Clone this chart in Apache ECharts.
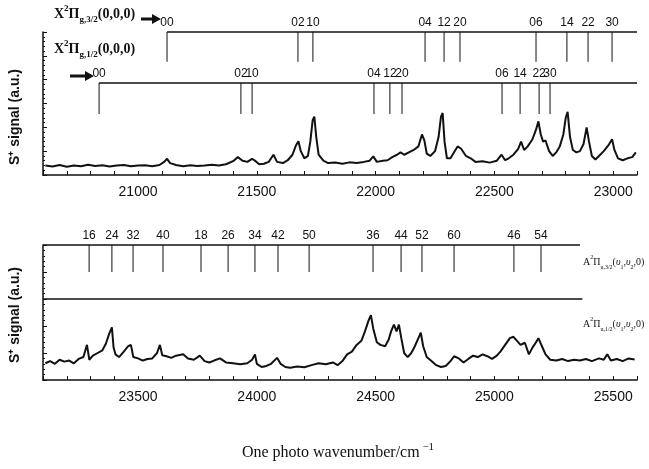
<!DOCTYPE html>
<html>
<head>
<meta charset="utf-8">
<script src="https://cdn.jsdelivr.net/npm/echarts@6/dist/echarts.min.js"></script>
<style>
  html, body { margin: 0; padding: 0; background: #fff; }
  #chart { width: 649px; height: 469px; }
</style>
</head>
<body>
<div id="chart"></div>
<script>
// axis ranges (cm-1)
var topRange = [20600, 23100];
var botRange = [23100, 25600];
var tickLabels = [21000, 21500, 22000, 22500, 23000, 23500, 24000, 24500, 25000, 25500];

// X2Pi_g,3/2 progression
var x32Pos = [21122, 21673, 21736, 22208, 22288, 22355, 22675, 22805, 22894, 22995];
var x32Lab = ['00', '02', '10', '04', '12', '20', '06', '14', '22', '30'];
// X2Pi_g,1/2 progression
var x12Pos = [20836, 21433, 21480, 21993, 22060, 22111, 22532, 22608, 22688, 22734];
var x12Lab = ['00', '02', '10', '04', '12', '20', '06', '14', '22', '30'];
// A2Pi_u,3/2 (v1,v2,0)
var a32Pos = [23294, 23390, 23479, 23605, 23765, 23879, 23992, 24089, 24220, 24489, 24607, 24695, 24830, 25082, 25196];
var a32Lab = ['16', '24', '32', '40', '18', '26', '34', '42', '50', '36', '44', '52', '60', '46', '54'];

// upper spectrum [wavenumber, signal]
var topSpec = [
  [20610,0.40],[20640,0.36],[20670,0.42],[20700,0.35],[20730,0.40],[20760,0.37],[20790,0.43],[20820,0.38],
  [20850,0.41],[20880,0.36],[20910,0.40],[20940,0.42],[20970,0.37],[21000,0.40],[21030,0.41],[21060,0.37],
  [21090,0.42],[21110,0.55],[21122,0.68],[21135,0.50],[21160,0.42],[21190,0.37],[21220,0.41],[21250,0.38],
  [21280,0.40],[21310,0.43],[21340,0.40],[21370,0.45],[21400,0.58],[21420,0.75],[21440,0.60],[21460,0.55],
  [21480,0.68],[21495,0.58],[21510,0.45],[21530,0.47],[21550,0.55],[21570,0.85],[21585,0.55],[21610,0.50],
  [21630,0.62],[21650,0.85],[21665,1.25],[21675,1.42],[21685,1.00],[21700,0.70],[21715,0.80],[21725,1.40],
  [21735,2.30],[21742,2.45],[21750,1.60],[21760,0.85],[21780,0.60],[21800,0.50],[21830,0.52],[21860,0.47],
  [21890,0.53],[21920,0.50],[21950,0.55],[21975,0.60],[21990,0.78],[22005,0.55],[22030,0.60],[22050,0.62],
  [22070,0.75],[22090,0.85],[22105,0.95],[22120,0.85],[22140,0.95],[22160,1.05],[22180,1.20],[22195,1.70],
  [22205,1.45],[22215,0.90],[22230,0.80],[22250,1.00],[22265,1.60],[22275,2.45],[22282,2.60],[22290,1.40],
  [22300,0.70],[22315,0.70],[22330,0.95],[22345,1.20],[22360,1.10],[22380,0.80],[22400,0.70],[22420,0.55],
  [22450,0.58],[22480,0.52],[22510,0.60],[22530,0.85],[22545,0.62],[22560,0.70],[22580,0.85],[22600,1.10],
  [22612,1.40],[22625,1.05],[22640,1.20],[22660,1.50],[22675,1.90],[22685,2.25],[22695,1.70],[22705,1.40],
  [22715,1.45],[22730,1.00],[22745,0.80],[22760,0.95],[22775,1.20],[22790,1.70],[22800,2.40],[22808,2.65],
  [22818,1.60],[22830,1.05],[22845,0.95],[22860,1.00],[22875,1.30],[22888,2.00],[22898,1.40],[22910,0.80],
  [22925,0.65],[22940,0.80],[22960,1.00],[22980,1.25],[22995,1.50],[23005,1.05],[23020,0.70],[23040,0.62],
  [23060,0.70],[23080,0.75],[23095,0.95]
];

// lower spectrum [wavenumber, signal]
var botSpec = [
  [23110,0.62],[23130,0.70],[23150,0.60],[23170,0.75],[23190,0.68],[23210,0.72],[23230,0.62],[23250,0.78],
  [23270,0.85],[23285,1.30],[23295,0.75],[23310,0.90],[23330,1.00],[23350,1.10],[23365,1.35],[23378,1.70],
  [23390,1.95],[23397,1.20],[23405,0.95],[23420,0.85],[23440,1.05],[23458,1.25],[23470,1.30],[23480,0.85],
  [23500,0.80],[23520,0.72],[23540,0.78],[23560,0.80],[23580,1.00],[23592,1.30],[23602,0.92],[23620,0.88],
  [23640,0.82],[23660,0.90],[23690,0.95],[23710,0.80],[23735,0.75],[23760,0.90],[23780,0.70],[23800,0.65],
  [23820,0.72],[23845,0.80],[23870,0.65],[23900,0.62],[23930,0.58],[23960,0.62],[23980,0.75],[23992,0.95],
  [24000,0.60],[24020,0.48],[24040,0.52],[24060,0.60],[24085,0.82],[24100,0.60],[24120,0.48],[24140,0.45],
  [24170,0.50],[24200,0.47],[24230,0.55],[24260,0.62],[24290,0.58],[24320,0.65],[24340,0.55],[24360,0.70],
  [24380,0.95],[24400,1.05],[24420,1.30],[24440,1.45],[24455,1.80],[24470,2.20],[24480,2.40],[24490,1.90],
  [24505,1.40],[24520,1.30],[24540,1.25],[24555,1.50],[24565,1.80],[24577,2.05],[24588,1.80],[24598,2.05],
  [24608,1.55],[24620,1.00],[24635,0.85],[24650,1.00],[24665,1.25],[24680,1.55],[24690,1.75],[24700,1.25],
  [24715,0.85],[24735,0.70],[24755,0.55],[24775,0.48],[24795,0.52],[24815,0.70],[24830,0.88],[24850,0.80],
  [24870,0.65],[24890,0.78],[24910,0.90],[24930,0.85],[24950,0.95],[24970,0.88],[24990,0.78],[25010,0.90],
  [25025,1.05],[25045,1.30],[25065,1.55],[25080,1.60],[25095,1.45],[25110,1.30],[25128,1.38],[25145,0.95],
  [25160,1.20],[25175,1.40],[25185,1.55],[25200,1.25],[25215,0.95],[25235,0.75],[25260,0.72],[25285,0.78],
  [25310,0.70],[25335,0.75],[25360,0.72],[25385,0.78],[25410,0.70],[25440,0.80],[25460,0.75],[25475,0.95],
  [25490,0.72],[25515,0.78],[25540,0.70],[25565,0.80],[25590,0.76]
];

var ink = '#111';
var sansFont = '"Liberation Sans", Arial, sans-serif';
var serifFont = '"Liberation Serif", "Times New Roman", serif';

function makeXAxis(idx, range) {
  return {
    type: 'value', gridIndex: idx, min: range[0], max: range[1], interval: 100,
    axisLine: { lineStyle: { color: ink, width: 1.5 } },
    axisTick: { inside: true, length: 4, lineStyle: { color: ink } },
    splitLine: { show: false },
    axisLabel: {
      margin: 10, color: ink, fontSize: 14, fontFamily: sansFont,
      formatter: function (v) { return tickLabels.indexOf(v) >= 0 ? String(v) : ''; }
    }
  };
}

function makeYAxis(idx, max) {
  return {
    type: 'value', gridIndex: idx, min: 0, max: max, interval: 1,
    axisLine: { show: true, lineStyle: { color: ink, width: 1.5 } },
    axisTick: { show: true, inside: true, length: 4, lineStyle: { color: ink } },
    minorTick: { show: true, splitNumber: 5, length: 2, lineStyle: { color: ink } },
    axisLabel: { show: false },
    splitLine: { show: false }
  };
}

// vertical assignment sticks with their labels on top
function stickSeries(idx, pos, labs, top, bottom) {
  return {
    type: 'custom', xAxisIndex: idx, yAxisIndex: idx, clip: false, silent: true,
    data: pos.map(function (p) { return [p, top, bottom]; }),
    encode: { x: 0, y: [1, 2] },
    renderItem: function (params, api) {
      var a = api.coord([api.value(0), api.value(1)]);
      var b = api.coord([api.value(0), api.value(2)]);
      return {
        type: 'group',
        children: [
          { type: 'line', shape: { x1: a[0], y1: a[1], x2: b[0], y2: b[1] }, style: { stroke: ink, lineWidth: 1 } },
          { type: 'text', style: { text: labs[params.dataIndex], x: a[0], y: a[1] - 3, align: 'center', verticalAlign: 'bottom', font: '12px ' + sansFont, fill: ink } }
        ]
      };
    }
  };
}

function levelLine(idx, from, to, level) {
  return {
    type: 'line', xAxisIndex: idx, yAxisIndex: idx, clip: false, silent: true,
    symbol: 'none', lineStyle: { color: ink, width: 1.5 },
    data: [[from, level], [to, level]]
  };
}

var stateRich = {
  m: { fontSize: 14, fontWeight: 'bold', fontFamily: serifFont, lineHeight: 20, verticalAlign: 'middle', fill: ink },
  p: { fontSize: 9, fontWeight: 'bold', fontFamily: serifFont, lineHeight: 20, verticalAlign: 'top', fill: ink },
  s: { fontSize: 9, fontWeight: 'bold', fontFamily: serifFont, lineHeight: 20, verticalAlign: 'bottom', fill: ink }
};
var aRich = {
  m: { fontSize: 10, fontFamily: serifFont, lineHeight: 16, verticalAlign: 'middle', fill: ink },
  i: { fontSize: 10, fontStyle: 'italic', fontFamily: serifFont, lineHeight: 16, verticalAlign: 'middle', fill: ink },
  p: { fontSize: 6, fontFamily: serifFont, lineHeight: 16, verticalAlign: 'top', fill: ink },
  s: { fontSize: 6, fontFamily: serifFont, lineHeight: 16, verticalAlign: 'bottom', fill: ink }
};

function arrow(x, y, len) {
  return {
    type: 'polygon', silent: true,
    shape: { points: [[x, y - 1.5], [x + len - 9, y - 1.5], [x + len - 9, y - 5], [x + len, y], [x + len - 9, y + 5], [x + len - 9, y + 1.5], [x, y + 1.5]] },
    style: { fill: ink }
  };
}

var chart = echarts.init(document.getElementById('chart'));
chart.setOption({
  animation: false,
  backgroundColor: '#fff',
  grid: [
    { left: 43, top: 32, width: 594, height: 143 },
    { left: 43, top: 245, width: 594, height: 135 }
  ],
  xAxis: [makeXAxis(0, topRange), makeXAxis(1, botRange)],
  yAxis: [makeYAxis(0, 6), makeYAxis(1, 5)],
  series: [
    {
      type: 'line', xAxisIndex: 0, yAxisIndex: 0, symbol: 'none', silent: true,
      lineStyle: { color: ink, width: 2 }, data: topSpec
    },
    {
      type: 'line', xAxisIndex: 1, yAxisIndex: 1, symbol: 'none', silent: true,
      lineStyle: { color: ink, width: 2 }, data: botSpec
    },
    levelLine(0, x32Pos[0], topRange[1], 6),
    stickSeries(0, x32Pos, x32Lab, 6, 4.75),
    levelLine(0, x12Pos[0], topRange[1], 3.86),
    stickSeries(0, x12Pos, x12Lab, 3.86, 2.56),
    levelLine(1, botRange[0], 25360, 5),
    stickSeries(1, a32Pos, a32Lab, 5, 4),
    levelLine(1, botRange[0], 25370, 3)
  ],
  graphic: [
    { type: 'text', x: 54, y: 4, style: { text: '{m|X}{p|2}{m|Π}{s|g,3/2}{m|(0,0,0)}', rich: stateRich } },
    arrow(141, 19, 20),
    { type: 'text', x: 54, y: 39, style: { text: '{m|X}{p|2}{m|Π}{s|g,1/2}{m|(0,0,0)}', rich: stateRich } },
    arrow(70, 76, 24),
    { type: 'text', x: 583, y: 254, style: { text: '{m|A}{p|2}{m|Π}{s|u,3/2}{m|(}{i|υ}{s|1}{m|,}{i|υ}{s|2}{m|,0)}', rich: aRich } },
    { type: 'text', x: 583, y: 316, style: { text: '{m|A}{p|2}{m|Π}{s|u,1/2}{m|(}{i|υ}{s|1}{m|,}{i|υ}{s|2}{m|,0)}', rich: aRich } },
    { type: 'text', x: 15, y: 117, rotation: Math.PI / 2,
      style: { text: 'S⁺ signal (a.u.)', align: 'center', verticalAlign: 'middle', font: 'bold 14px ' + sansFont, fill: ink } },
    { type: 'text', x: 15, y: 315, rotation: Math.PI / 2,
      style: { text: 'S⁺ signal (a.u.)', align: 'center', verticalAlign: 'middle', font: 'bold 14px ' + sansFont, fill: ink } },
    { type: 'text', x: 338, y: 453,
      style: {
        text: '{t|One photo wavenumber/cm}{u| −1}', align: 'center', verticalAlign: 'middle',
        rich: {
          t: { fontSize: 16, fontFamily: serifFont, lineHeight: 22, verticalAlign: 'middle', fill: ink },
          u: { fontSize: 11, fontFamily: serifFont, lineHeight: 22, verticalAlign: 'top', fill: ink }
        }
      } }
  ]
});
</script>
</body>
</html>
